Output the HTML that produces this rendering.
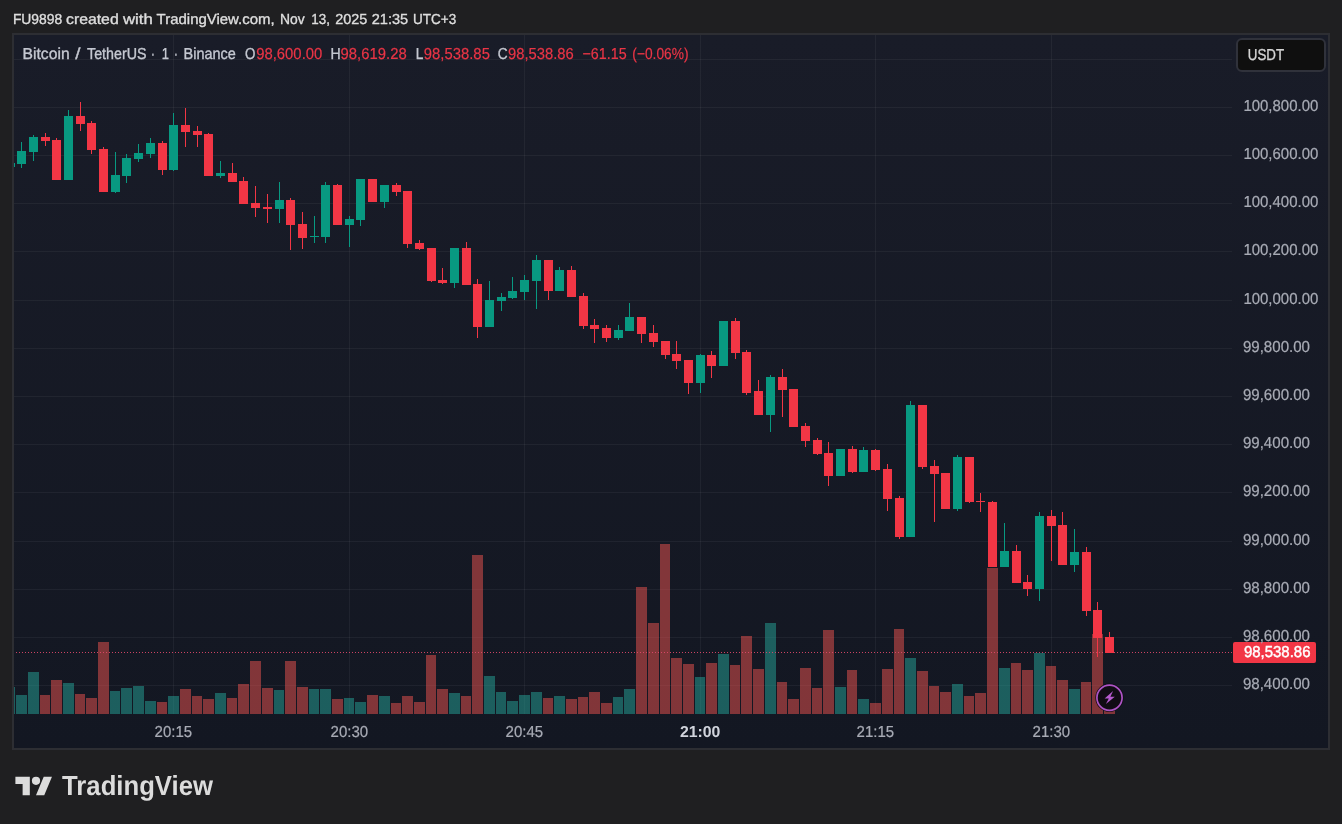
<!DOCTYPE html>
<html lang="en"><head><meta charset="utf-8"><title>TradingView</title>
<style>
html,body{margin:0;padding:0;background:#1f1f21;}
body{width:1342px;height:824px;overflow:hidden;}
svg{display:block;}
text{font-family:"Liberation Sans",Arial,sans-serif;text-rendering:geometricPrecision;}
</style></head><body>
<svg width="1342" height="824" viewBox="0 0 1342 824">
<defs>
<linearGradient id="bg" x1="0" y1="0" x2="0" y2="1"><stop offset="0" stop-color="#191c28"/><stop offset="1" stop-color="#131722"/></linearGradient>
<clipPath id="plot"><rect x="14" y="35" width="1218" height="713"/></clipPath>
</defs>
<rect x="0" y="0" width="1342" height="824" fill="#1f1f21"/>
<rect x="12" y="33" width="1318" height="717" fill="#2d2e33" shape-rendering="crispEdges"/>
<rect x="14" y="35" width="1314" height="713" fill="url(#bg)" shape-rendering="crispEdges"/>
<g fill="#f2f2f2" fill-opacity="0.056" shape-rendering="crispEdges">
<rect x="14" y="59" width="1218" height="1"/>
<rect x="14" y="107" width="1218" height="1"/>
<rect x="14" y="155" width="1218" height="1"/>
<rect x="14" y="203" width="1218" height="1"/>
<rect x="14" y="251" width="1218" height="1"/>
<rect x="14" y="300" width="1218" height="1"/>
<rect x="14" y="348" width="1218" height="1"/>
<rect x="14" y="396" width="1218" height="1"/>
<rect x="14" y="444" width="1218" height="1"/>
<rect x="14" y="492" width="1218" height="1"/>
<rect x="14" y="541" width="1218" height="1"/>
<rect x="14" y="589" width="1218" height="1"/>
<rect x="14" y="637" width="1218" height="1"/>
<rect x="14" y="685" width="1218" height="1"/>
<rect x="173" y="35" width="1" height="679"/>
<rect x="349" y="35" width="1" height="679"/>
<rect x="524" y="35" width="1" height="679"/>
<rect x="700" y="35" width="1" height="679"/>
<rect x="875" y="35" width="1" height="679"/>
<rect x="1051" y="35" width="1" height="679"/>
</g>
<g clip-path="url(#plot)" shape-rendering="crispEdges">
<g fill-opacity="0.5">
<rect x="4" y="687" width="11" height="27" fill="#26a69a"/>
<rect x="16" y="695" width="11" height="19" fill="#26a69a"/>
<rect x="28" y="672" width="11" height="42" fill="#26a69a"/>
<rect x="40" y="695" width="10" height="19" fill="#ef5350"/>
<rect x="51" y="680" width="11" height="34" fill="#ef5350"/>
<rect x="63" y="683" width="11" height="31" fill="#26a69a"/>
<rect x="75" y="694" width="10" height="20" fill="#ef5350"/>
<rect x="86" y="698" width="11" height="16" fill="#ef5350"/>
<rect x="98" y="642" width="11" height="72" fill="#ef5350"/>
<rect x="110" y="691" width="10" height="23" fill="#26a69a"/>
<rect x="121" y="688" width="11" height="26" fill="#26a69a"/>
<rect x="133" y="686" width="11" height="28" fill="#26a69a"/>
<rect x="145" y="701" width="11" height="13" fill="#26a69a"/>
<rect x="157" y="702" width="10" height="12" fill="#ef5350"/>
<rect x="168" y="696" width="11" height="18" fill="#26a69a"/>
<rect x="180" y="689" width="11" height="25" fill="#ef5350"/>
<rect x="192" y="696" width="10" height="18" fill="#ef5350"/>
<rect x="203" y="699" width="11" height="15" fill="#ef5350"/>
<rect x="215" y="693" width="11" height="21" fill="#26a69a"/>
<rect x="227" y="698" width="10" height="16" fill="#ef5350"/>
<rect x="238" y="684" width="11" height="30" fill="#ef5350"/>
<rect x="250" y="661" width="11" height="53" fill="#ef5350"/>
<rect x="262" y="688" width="11" height="26" fill="#ef5350"/>
<rect x="274" y="690" width="10" height="24" fill="#26a69a"/>
<rect x="285" y="661" width="11" height="53" fill="#ef5350"/>
<rect x="297" y="687" width="11" height="27" fill="#ef5350"/>
<rect x="309" y="689" width="10" height="25" fill="#26a69a"/>
<rect x="320" y="689" width="11" height="25" fill="#26a69a"/>
<rect x="332" y="699" width="11" height="15" fill="#ef5350"/>
<rect x="344" y="698" width="10" height="16" fill="#26a69a"/>
<rect x="355" y="702" width="11" height="12" fill="#26a69a"/>
<rect x="367" y="695" width="11" height="19" fill="#ef5350"/>
<rect x="379" y="696" width="11" height="18" fill="#26a69a"/>
<rect x="391" y="703" width="10" height="11" fill="#ef5350"/>
<rect x="402" y="696" width="11" height="18" fill="#ef5350"/>
<rect x="414" y="702" width="11" height="12" fill="#ef5350"/>
<rect x="426" y="655" width="10" height="59" fill="#ef5350"/>
<rect x="437" y="689" width="11" height="25" fill="#ef5350"/>
<rect x="449" y="693" width="11" height="21" fill="#26a69a"/>
<rect x="461" y="696" width="10" height="18" fill="#ef5350"/>
<rect x="472" y="555" width="11" height="159" fill="#ef5350"/>
<rect x="484" y="676" width="11" height="38" fill="#26a69a"/>
<rect x="496" y="692" width="10" height="22" fill="#26a69a"/>
<rect x="507" y="701" width="11" height="13" fill="#26a69a"/>
<rect x="519" y="695" width="11" height="19" fill="#26a69a"/>
<rect x="531" y="692" width="11" height="22" fill="#26a69a"/>
<rect x="543" y="698" width="10" height="16" fill="#ef5350"/>
<rect x="554" y="696" width="11" height="18" fill="#26a69a"/>
<rect x="566" y="699" width="11" height="15" fill="#ef5350"/>
<rect x="578" y="697" width="10" height="17" fill="#ef5350"/>
<rect x="589" y="692" width="11" height="22" fill="#ef5350"/>
<rect x="601" y="703" width="11" height="11" fill="#ef5350"/>
<rect x="613" y="697" width="10" height="17" fill="#26a69a"/>
<rect x="624" y="689" width="11" height="25" fill="#26a69a"/>
<rect x="636" y="587" width="11" height="127" fill="#ef5350"/>
<rect x="648" y="623" width="11" height="91" fill="#ef5350"/>
<rect x="660" y="544" width="10" height="170" fill="#ef5350"/>
<rect x="671" y="658" width="11" height="56" fill="#ef5350"/>
<rect x="683" y="664" width="11" height="50" fill="#ef5350"/>
<rect x="695" y="677" width="10" height="37" fill="#26a69a"/>
<rect x="706" y="663" width="11" height="51" fill="#ef5350"/>
<rect x="718" y="654" width="11" height="60" fill="#26a69a"/>
<rect x="730" y="665" width="10" height="49" fill="#ef5350"/>
<rect x="741" y="636" width="11" height="78" fill="#ef5350"/>
<rect x="753" y="669" width="11" height="45" fill="#ef5350"/>
<rect x="765" y="623" width="11" height="91" fill="#26a69a"/>
<rect x="777" y="682" width="10" height="32" fill="#ef5350"/>
<rect x="788" y="699" width="11" height="15" fill="#ef5350"/>
<rect x="800" y="668" width="11" height="46" fill="#ef5350"/>
<rect x="812" y="688" width="10" height="26" fill="#ef5350"/>
<rect x="823" y="630" width="11" height="84" fill="#ef5350"/>
<rect x="835" y="687" width="11" height="27" fill="#26a69a"/>
<rect x="847" y="670" width="10" height="44" fill="#ef5350"/>
<rect x="858" y="699" width="11" height="15" fill="#26a69a"/>
<rect x="870" y="703" width="11" height="11" fill="#ef5350"/>
<rect x="882" y="669" width="11" height="45" fill="#ef5350"/>
<rect x="894" y="629" width="10" height="85" fill="#ef5350"/>
<rect x="905" y="658" width="11" height="56" fill="#26a69a"/>
<rect x="917" y="671" width="11" height="43" fill="#ef5350"/>
<rect x="929" y="686" width="10" height="28" fill="#ef5350"/>
<rect x="940" y="692" width="11" height="22" fill="#ef5350"/>
<rect x="952" y="684" width="11" height="30" fill="#26a69a"/>
<rect x="964" y="696" width="10" height="18" fill="#ef5350"/>
<rect x="975" y="693" width="11" height="21" fill="#ef5350"/>
<rect x="987" y="568" width="11" height="146" fill="#ef5350"/>
<rect x="999" y="668" width="11" height="46" fill="#26a69a"/>
<rect x="1011" y="663" width="10" height="51" fill="#ef5350"/>
<rect x="1022" y="670" width="11" height="44" fill="#ef5350"/>
<rect x="1034" y="653" width="11" height="61" fill="#26a69a"/>
<rect x="1046" y="666" width="10" height="48" fill="#ef5350"/>
<rect x="1057" y="680" width="11" height="34" fill="#ef5350"/>
<rect x="1069" y="689" width="11" height="25" fill="#26a69a"/>
<rect x="1081" y="682" width="10" height="32" fill="#ef5350"/>
<rect x="1092" y="634" width="11" height="80" fill="#ef5350"/>
<rect x="1104" y="688" width="11" height="26" fill="#ef5350"/>
</g>
<g fill="#e0486a" fill-opacity="0.9">
<path d="M16 652h1v1h-1zM19 652h1v1h-1zM22 652h1v1h-1zM25 652h1v1h-1zM28 652h1v1h-1zM31 652h1v1h-1zM34 652h1v1h-1zM37 652h1v1h-1zM40 652h1v1h-1zM43 652h1v1h-1zM46 652h1v1h-1zM49 652h1v1h-1zM52 652h1v1h-1zM55 652h1v1h-1zM58 652h1v1h-1zM61 652h1v1h-1zM64 652h1v1h-1zM67 652h1v1h-1zM70 652h1v1h-1zM73 652h1v1h-1zM76 652h1v1h-1zM79 652h1v1h-1zM82 652h1v1h-1zM85 652h1v1h-1zM88 652h1v1h-1zM91 652h1v1h-1zM94 652h1v1h-1zM97 652h1v1h-1zM100 652h1v1h-1zM103 652h1v1h-1zM106 652h1v1h-1zM109 652h1v1h-1zM112 652h1v1h-1zM115 652h1v1h-1zM118 652h1v1h-1zM121 652h1v1h-1zM124 652h1v1h-1zM127 652h1v1h-1zM130 652h1v1h-1zM133 652h1v1h-1zM136 652h1v1h-1zM139 652h1v1h-1zM142 652h1v1h-1zM145 652h1v1h-1zM148 652h1v1h-1zM151 652h1v1h-1zM154 652h1v1h-1zM157 652h1v1h-1zM160 652h1v1h-1zM163 652h1v1h-1zM166 652h1v1h-1zM169 652h1v1h-1zM172 652h1v1h-1zM175 652h1v1h-1zM178 652h1v1h-1zM181 652h1v1h-1zM184 652h1v1h-1zM187 652h1v1h-1zM190 652h1v1h-1zM193 652h1v1h-1zM196 652h1v1h-1zM199 652h1v1h-1zM202 652h1v1h-1zM205 652h1v1h-1zM208 652h1v1h-1zM211 652h1v1h-1zM214 652h1v1h-1zM217 652h1v1h-1zM220 652h1v1h-1zM223 652h1v1h-1zM226 652h1v1h-1zM229 652h1v1h-1zM232 652h1v1h-1zM235 652h1v1h-1zM238 652h1v1h-1zM241 652h1v1h-1zM244 652h1v1h-1zM247 652h1v1h-1zM250 652h1v1h-1zM253 652h1v1h-1zM256 652h1v1h-1zM259 652h1v1h-1zM262 652h1v1h-1zM265 652h1v1h-1zM268 652h1v1h-1zM271 652h1v1h-1zM274 652h1v1h-1zM277 652h1v1h-1zM280 652h1v1h-1zM283 652h1v1h-1zM286 652h1v1h-1zM289 652h1v1h-1zM292 652h1v1h-1zM295 652h1v1h-1zM298 652h1v1h-1zM301 652h1v1h-1zM304 652h1v1h-1zM307 652h1v1h-1zM310 652h1v1h-1zM313 652h1v1h-1zM316 652h1v1h-1zM319 652h1v1h-1zM322 652h1v1h-1zM325 652h1v1h-1zM328 652h1v1h-1zM331 652h1v1h-1zM334 652h1v1h-1zM337 652h1v1h-1zM340 652h1v1h-1zM343 652h1v1h-1zM346 652h1v1h-1zM349 652h1v1h-1zM352 652h1v1h-1zM355 652h1v1h-1zM358 652h1v1h-1zM361 652h1v1h-1zM364 652h1v1h-1zM367 652h1v1h-1zM370 652h1v1h-1zM373 652h1v1h-1zM376 652h1v1h-1zM379 652h1v1h-1zM382 652h1v1h-1zM385 652h1v1h-1zM388 652h1v1h-1zM391 652h1v1h-1zM394 652h1v1h-1zM397 652h1v1h-1zM400 652h1v1h-1zM403 652h1v1h-1zM406 652h1v1h-1zM409 652h1v1h-1zM412 652h1v1h-1zM415 652h1v1h-1zM418 652h1v1h-1zM421 652h1v1h-1zM424 652h1v1h-1zM427 652h1v1h-1zM430 652h1v1h-1zM433 652h1v1h-1zM436 652h1v1h-1zM439 652h1v1h-1zM442 652h1v1h-1zM445 652h1v1h-1zM448 652h1v1h-1zM451 652h1v1h-1zM454 652h1v1h-1zM457 652h1v1h-1zM460 652h1v1h-1zM463 652h1v1h-1zM466 652h1v1h-1zM469 652h1v1h-1zM472 652h1v1h-1zM475 652h1v1h-1zM478 652h1v1h-1zM481 652h1v1h-1zM484 652h1v1h-1zM487 652h1v1h-1zM490 652h1v1h-1zM493 652h1v1h-1zM496 652h1v1h-1zM499 652h1v1h-1zM502 652h1v1h-1zM505 652h1v1h-1zM508 652h1v1h-1zM511 652h1v1h-1zM514 652h1v1h-1zM517 652h1v1h-1zM520 652h1v1h-1zM523 652h1v1h-1zM526 652h1v1h-1zM529 652h1v1h-1zM532 652h1v1h-1zM535 652h1v1h-1zM538 652h1v1h-1zM541 652h1v1h-1zM544 652h1v1h-1zM547 652h1v1h-1zM550 652h1v1h-1zM553 652h1v1h-1zM556 652h1v1h-1zM559 652h1v1h-1zM562 652h1v1h-1zM565 652h1v1h-1zM568 652h1v1h-1zM571 652h1v1h-1zM574 652h1v1h-1zM577 652h1v1h-1zM580 652h1v1h-1zM583 652h1v1h-1zM586 652h1v1h-1zM589 652h1v1h-1zM592 652h1v1h-1zM595 652h1v1h-1zM598 652h1v1h-1zM601 652h1v1h-1zM604 652h1v1h-1zM607 652h1v1h-1zM610 652h1v1h-1zM613 652h1v1h-1zM616 652h1v1h-1zM619 652h1v1h-1zM622 652h1v1h-1zM625 652h1v1h-1zM628 652h1v1h-1zM631 652h1v1h-1zM634 652h1v1h-1zM637 652h1v1h-1zM640 652h1v1h-1zM643 652h1v1h-1zM646 652h1v1h-1zM649 652h1v1h-1zM652 652h1v1h-1zM655 652h1v1h-1zM658 652h1v1h-1zM661 652h1v1h-1zM664 652h1v1h-1zM667 652h1v1h-1zM670 652h1v1h-1zM673 652h1v1h-1zM676 652h1v1h-1zM679 652h1v1h-1zM682 652h1v1h-1zM685 652h1v1h-1zM688 652h1v1h-1zM691 652h1v1h-1zM694 652h1v1h-1zM697 652h1v1h-1zM700 652h1v1h-1zM703 652h1v1h-1zM706 652h1v1h-1zM709 652h1v1h-1zM712 652h1v1h-1zM715 652h1v1h-1zM718 652h1v1h-1zM721 652h1v1h-1zM724 652h1v1h-1zM727 652h1v1h-1zM730 652h1v1h-1zM733 652h1v1h-1zM736 652h1v1h-1zM739 652h1v1h-1zM742 652h1v1h-1zM745 652h1v1h-1zM748 652h1v1h-1zM751 652h1v1h-1zM754 652h1v1h-1zM757 652h1v1h-1zM760 652h1v1h-1zM763 652h1v1h-1zM766 652h1v1h-1zM769 652h1v1h-1zM772 652h1v1h-1zM775 652h1v1h-1zM778 652h1v1h-1zM781 652h1v1h-1zM784 652h1v1h-1zM787 652h1v1h-1zM790 652h1v1h-1zM793 652h1v1h-1zM796 652h1v1h-1zM799 652h1v1h-1zM802 652h1v1h-1zM805 652h1v1h-1zM808 652h1v1h-1zM811 652h1v1h-1zM814 652h1v1h-1zM817 652h1v1h-1zM820 652h1v1h-1zM823 652h1v1h-1zM826 652h1v1h-1zM829 652h1v1h-1zM832 652h1v1h-1zM835 652h1v1h-1zM838 652h1v1h-1zM841 652h1v1h-1zM844 652h1v1h-1zM847 652h1v1h-1zM850 652h1v1h-1zM853 652h1v1h-1zM856 652h1v1h-1zM859 652h1v1h-1zM862 652h1v1h-1zM865 652h1v1h-1zM868 652h1v1h-1zM871 652h1v1h-1zM874 652h1v1h-1zM877 652h1v1h-1zM880 652h1v1h-1zM883 652h1v1h-1zM886 652h1v1h-1zM889 652h1v1h-1zM892 652h1v1h-1zM895 652h1v1h-1zM898 652h1v1h-1zM901 652h1v1h-1zM904 652h1v1h-1zM907 652h1v1h-1zM910 652h1v1h-1zM913 652h1v1h-1zM916 652h1v1h-1zM919 652h1v1h-1zM922 652h1v1h-1zM925 652h1v1h-1zM928 652h1v1h-1zM931 652h1v1h-1zM934 652h1v1h-1zM937 652h1v1h-1zM940 652h1v1h-1zM943 652h1v1h-1zM946 652h1v1h-1zM949 652h1v1h-1zM952 652h1v1h-1zM955 652h1v1h-1zM958 652h1v1h-1zM961 652h1v1h-1zM964 652h1v1h-1zM967 652h1v1h-1zM970 652h1v1h-1zM973 652h1v1h-1zM976 652h1v1h-1zM979 652h1v1h-1zM982 652h1v1h-1zM985 652h1v1h-1zM988 652h1v1h-1zM991 652h1v1h-1zM994 652h1v1h-1zM997 652h1v1h-1zM1000 652h1v1h-1zM1003 652h1v1h-1zM1006 652h1v1h-1zM1009 652h1v1h-1zM1012 652h1v1h-1zM1015 652h1v1h-1zM1018 652h1v1h-1zM1021 652h1v1h-1zM1024 652h1v1h-1zM1027 652h1v1h-1zM1030 652h1v1h-1zM1033 652h1v1h-1zM1036 652h1v1h-1zM1039 652h1v1h-1zM1042 652h1v1h-1zM1045 652h1v1h-1zM1048 652h1v1h-1zM1051 652h1v1h-1zM1054 652h1v1h-1zM1057 652h1v1h-1zM1060 652h1v1h-1zM1063 652h1v1h-1zM1066 652h1v1h-1zM1069 652h1v1h-1zM1072 652h1v1h-1zM1075 652h1v1h-1zM1078 652h1v1h-1zM1081 652h1v1h-1zM1084 652h1v1h-1zM1087 652h1v1h-1zM1090 652h1v1h-1zM1093 652h1v1h-1zM1096 652h1v1h-1zM1099 652h1v1h-1zM1102 652h1v1h-1zM1105 652h1v1h-1zM1108 652h1v1h-1zM1111 652h1v1h-1zM1114 652h1v1h-1zM1117 652h1v1h-1zM1120 652h1v1h-1zM1123 652h1v1h-1zM1126 652h1v1h-1zM1129 652h1v1h-1zM1132 652h1v1h-1zM1135 652h1v1h-1zM1138 652h1v1h-1zM1141 652h1v1h-1zM1144 652h1v1h-1zM1147 652h1v1h-1zM1150 652h1v1h-1zM1153 652h1v1h-1zM1156 652h1v1h-1zM1159 652h1v1h-1zM1162 652h1v1h-1zM1165 652h1v1h-1zM1168 652h1v1h-1zM1171 652h1v1h-1zM1174 652h1v1h-1zM1177 652h1v1h-1zM1180 652h1v1h-1zM1183 652h1v1h-1zM1186 652h1v1h-1zM1189 652h1v1h-1zM1192 652h1v1h-1zM1195 652h1v1h-1zM1198 652h1v1h-1zM1201 652h1v1h-1zM1204 652h1v1h-1zM1207 652h1v1h-1zM1210 652h1v1h-1zM1213 652h1v1h-1zM1216 652h1v1h-1zM1219 652h1v1h-1zM1222 652h1v1h-1zM1225 652h1v1h-1zM1228 652h1v1h-1zM1231 652h1v1h-1z"/>
</g>
<rect x="10" y="163" width="5" height="4" fill="#089981"/>
<rect x="21" y="142" width="1" height="26" fill="#089981"/>
<rect x="17" y="151" width="9" height="13" fill="#089981"/>
<rect x="33" y="135" width="1" height="26" fill="#089981"/>
<rect x="29" y="137" width="9" height="15" fill="#089981"/>
<rect x="45" y="133" width="1" height="13" fill="#f23645"/>
<rect x="41" y="137" width="9" height="4" fill="#f23645"/>
<rect x="56" y="138" width="1" height="42" fill="#f23645"/>
<rect x="52" y="140" width="9" height="40" fill="#f23645"/>
<rect x="68" y="110" width="1" height="70" fill="#089981"/>
<rect x="64" y="116" width="9" height="64" fill="#089981"/>
<rect x="80" y="102" width="1" height="29" fill="#f23645"/>
<rect x="76" y="116" width="9" height="8" fill="#f23645"/>
<rect x="91" y="121" width="1" height="33" fill="#f23645"/>
<rect x="87" y="123" width="9" height="27" fill="#f23645"/>
<rect x="103" y="147" width="1" height="45" fill="#f23645"/>
<rect x="99" y="149" width="9" height="43" fill="#f23645"/>
<rect x="115" y="152" width="1" height="41" fill="#089981"/>
<rect x="111" y="175" width="9" height="17" fill="#089981"/>
<rect x="126" y="154" width="1" height="29" fill="#089981"/>
<rect x="122" y="158" width="9" height="18" fill="#089981"/>
<rect x="138" y="144" width="1" height="18" fill="#089981"/>
<rect x="134" y="153" width="9" height="6" fill="#089981"/>
<rect x="150" y="138" width="1" height="20" fill="#089981"/>
<rect x="146" y="143" width="9" height="11" fill="#089981"/>
<rect x="162" y="141" width="1" height="34" fill="#f23645"/>
<rect x="158" y="143" width="9" height="27" fill="#f23645"/>
<rect x="173" y="113" width="1" height="58" fill="#089981"/>
<rect x="169" y="125" width="9" height="45" fill="#089981"/>
<rect x="185" y="108" width="1" height="39" fill="#f23645"/>
<rect x="181" y="125" width="9" height="7" fill="#f23645"/>
<rect x="197" y="126" width="1" height="21" fill="#f23645"/>
<rect x="193" y="131" width="9" height="4" fill="#f23645"/>
<rect x="208" y="133" width="1" height="43" fill="#f23645"/>
<rect x="204" y="134" width="9" height="42" fill="#f23645"/>
<rect x="220" y="161" width="1" height="17" fill="#089981"/>
<rect x="216" y="173" width="9" height="3" fill="#089981"/>
<rect x="232" y="163" width="1" height="19" fill="#f23645"/>
<rect x="228" y="173" width="9" height="9" fill="#f23645"/>
<rect x="243" y="177" width="1" height="27" fill="#f23645"/>
<rect x="239" y="181" width="9" height="23" fill="#f23645"/>
<rect x="255" y="186" width="1" height="31" fill="#f23645"/>
<rect x="251" y="203" width="9" height="5" fill="#f23645"/>
<rect x="267" y="194" width="1" height="29" fill="#f23645"/>
<rect x="263" y="207" width="9" height="2" fill="#f23645"/>
<rect x="279" y="182" width="1" height="41" fill="#089981"/>
<rect x="275" y="200" width="9" height="9" fill="#089981"/>
<rect x="290" y="198" width="1" height="52" fill="#f23645"/>
<rect x="286" y="200" width="9" height="25" fill="#f23645"/>
<rect x="302" y="212" width="1" height="37" fill="#f23645"/>
<rect x="298" y="224" width="9" height="14" fill="#f23645"/>
<rect x="314" y="216" width="1" height="27" fill="#089981"/>
<rect x="310" y="236" width="9" height="1" fill="#089981"/>
<rect x="325" y="182" width="1" height="61" fill="#089981"/>
<rect x="321" y="185" width="9" height="52" fill="#089981"/>
<rect x="337" y="184" width="1" height="41" fill="#f23645"/>
<rect x="333" y="185" width="9" height="40" fill="#f23645"/>
<rect x="349" y="216" width="1" height="31" fill="#089981"/>
<rect x="345" y="219" width="9" height="6" fill="#089981"/>
<rect x="360" y="179" width="1" height="47" fill="#089981"/>
<rect x="356" y="179" width="9" height="41" fill="#089981"/>
<rect x="372" y="179" width="1" height="23" fill="#f23645"/>
<rect x="368" y="179" width="9" height="23" fill="#f23645"/>
<rect x="384" y="185" width="1" height="23" fill="#089981"/>
<rect x="380" y="185" width="9" height="17" fill="#089981"/>
<rect x="396" y="183" width="1" height="13" fill="#f23645"/>
<rect x="392" y="185" width="9" height="7" fill="#f23645"/>
<rect x="407" y="191" width="1" height="57" fill="#f23645"/>
<rect x="403" y="191" width="9" height="53" fill="#f23645"/>
<rect x="419" y="240" width="1" height="10" fill="#f23645"/>
<rect x="415" y="243" width="9" height="6" fill="#f23645"/>
<rect x="431" y="248" width="1" height="34" fill="#f23645"/>
<rect x="427" y="248" width="9" height="33" fill="#f23645"/>
<rect x="442" y="268" width="1" height="16" fill="#f23645"/>
<rect x="438" y="280" width="9" height="3" fill="#f23645"/>
<rect x="454" y="248" width="1" height="40" fill="#089981"/>
<rect x="450" y="248" width="9" height="35" fill="#089981"/>
<rect x="466" y="242" width="1" height="43" fill="#f23645"/>
<rect x="462" y="248" width="9" height="37" fill="#f23645"/>
<rect x="477" y="279" width="1" height="59" fill="#f23645"/>
<rect x="473" y="284" width="9" height="43" fill="#f23645"/>
<rect x="489" y="281" width="1" height="46" fill="#089981"/>
<rect x="485" y="300" width="9" height="27" fill="#089981"/>
<rect x="501" y="293" width="1" height="18" fill="#089981"/>
<rect x="497" y="297" width="9" height="4" fill="#089981"/>
<rect x="512" y="277" width="1" height="22" fill="#089981"/>
<rect x="508" y="291" width="9" height="7" fill="#089981"/>
<rect x="524" y="275" width="1" height="25" fill="#089981"/>
<rect x="520" y="280" width="9" height="12" fill="#089981"/>
<rect x="536" y="255" width="1" height="54" fill="#089981"/>
<rect x="532" y="260" width="9" height="21" fill="#089981"/>
<rect x="548" y="260" width="1" height="40" fill="#f23645"/>
<rect x="544" y="260" width="9" height="31" fill="#f23645"/>
<rect x="559" y="267" width="1" height="24" fill="#089981"/>
<rect x="555" y="270" width="9" height="21" fill="#089981"/>
<rect x="571" y="266" width="1" height="31" fill="#f23645"/>
<rect x="567" y="270" width="9" height="27" fill="#f23645"/>
<rect x="583" y="293" width="1" height="36" fill="#f23645"/>
<rect x="579" y="296" width="9" height="30" fill="#f23645"/>
<rect x="594" y="319" width="1" height="24" fill="#f23645"/>
<rect x="590" y="325" width="9" height="4" fill="#f23645"/>
<rect x="606" y="325" width="1" height="17" fill="#f23645"/>
<rect x="602" y="328" width="9" height="10" fill="#f23645"/>
<rect x="618" y="325" width="1" height="15" fill="#089981"/>
<rect x="614" y="330" width="9" height="8" fill="#089981"/>
<rect x="629" y="303" width="1" height="28" fill="#089981"/>
<rect x="625" y="317" width="9" height="14" fill="#089981"/>
<rect x="641" y="317" width="1" height="26" fill="#f23645"/>
<rect x="637" y="317" width="9" height="17" fill="#f23645"/>
<rect x="653" y="325" width="1" height="22" fill="#f23645"/>
<rect x="649" y="333" width="9" height="9" fill="#f23645"/>
<rect x="665" y="341" width="1" height="18" fill="#f23645"/>
<rect x="661" y="341" width="9" height="14" fill="#f23645"/>
<rect x="676" y="341" width="1" height="28" fill="#f23645"/>
<rect x="672" y="354" width="9" height="7" fill="#f23645"/>
<rect x="688" y="360" width="1" height="34" fill="#f23645"/>
<rect x="684" y="360" width="9" height="23" fill="#f23645"/>
<rect x="700" y="354" width="1" height="39" fill="#089981"/>
<rect x="696" y="355" width="9" height="28" fill="#089981"/>
<rect x="711" y="351" width="1" height="27" fill="#f23645"/>
<rect x="707" y="355" width="9" height="11" fill="#f23645"/>
<rect x="723" y="321" width="1" height="45" fill="#089981"/>
<rect x="719" y="321" width="9" height="45" fill="#089981"/>
<rect x="735" y="318" width="1" height="41" fill="#f23645"/>
<rect x="731" y="321" width="9" height="32" fill="#f23645"/>
<rect x="746" y="350" width="1" height="45" fill="#f23645"/>
<rect x="742" y="352" width="9" height="41" fill="#f23645"/>
<rect x="758" y="380" width="1" height="35" fill="#f23645"/>
<rect x="754" y="391" width="9" height="24" fill="#f23645"/>
<rect x="770" y="375" width="1" height="57" fill="#089981"/>
<rect x="766" y="377" width="9" height="38" fill="#089981"/>
<rect x="782" y="369" width="1" height="48" fill="#f23645"/>
<rect x="778" y="377" width="9" height="13" fill="#f23645"/>
<rect x="793" y="389" width="1" height="38" fill="#f23645"/>
<rect x="789" y="389" width="9" height="38" fill="#f23645"/>
<rect x="805" y="423" width="1" height="24" fill="#f23645"/>
<rect x="801" y="426" width="9" height="15" fill="#f23645"/>
<rect x="817" y="438" width="1" height="17" fill="#f23645"/>
<rect x="813" y="440" width="9" height="14" fill="#f23645"/>
<rect x="828" y="442" width="1" height="44" fill="#f23645"/>
<rect x="824" y="453" width="9" height="23" fill="#f23645"/>
<rect x="840" y="449" width="1" height="27" fill="#089981"/>
<rect x="836" y="449" width="9" height="27" fill="#089981"/>
<rect x="852" y="446" width="1" height="27" fill="#f23645"/>
<rect x="848" y="449" width="9" height="23" fill="#f23645"/>
<rect x="863" y="447" width="1" height="25" fill="#089981"/>
<rect x="859" y="450" width="9" height="22" fill="#089981"/>
<rect x="875" y="449" width="1" height="22" fill="#f23645"/>
<rect x="871" y="450" width="9" height="20" fill="#f23645"/>
<rect x="887" y="464" width="1" height="47" fill="#f23645"/>
<rect x="883" y="469" width="9" height="30" fill="#f23645"/>
<rect x="899" y="496" width="1" height="43" fill="#f23645"/>
<rect x="895" y="498" width="9" height="39" fill="#f23645"/>
<rect x="910" y="401" width="1" height="136" fill="#089981"/>
<rect x="906" y="405" width="9" height="132" fill="#089981"/>
<rect x="922" y="405" width="1" height="64" fill="#f23645"/>
<rect x="918" y="405" width="9" height="62" fill="#f23645"/>
<rect x="934" y="460" width="1" height="62" fill="#f23645"/>
<rect x="930" y="466" width="9" height="8" fill="#f23645"/>
<rect x="945" y="473" width="1" height="36" fill="#f23645"/>
<rect x="941" y="473" width="9" height="36" fill="#f23645"/>
<rect x="957" y="455" width="1" height="56" fill="#089981"/>
<rect x="953" y="457" width="9" height="52" fill="#089981"/>
<rect x="969" y="457" width="1" height="46" fill="#f23645"/>
<rect x="965" y="457" width="9" height="45" fill="#f23645"/>
<rect x="980" y="493" width="1" height="19" fill="#f23645"/>
<rect x="976" y="501" width="9" height="1" fill="#f23645"/>
<rect x="992" y="501" width="1" height="66" fill="#f23645"/>
<rect x="988" y="502" width="9" height="65" fill="#f23645"/>
<rect x="1004" y="523" width="1" height="44" fill="#089981"/>
<rect x="1000" y="551" width="9" height="16" fill="#089981"/>
<rect x="1016" y="545" width="1" height="38" fill="#f23645"/>
<rect x="1012" y="551" width="9" height="32" fill="#f23645"/>
<rect x="1027" y="575" width="1" height="21" fill="#f23645"/>
<rect x="1023" y="582" width="9" height="7" fill="#f23645"/>
<rect x="1039" y="512" width="1" height="89" fill="#089981"/>
<rect x="1035" y="516" width="9" height="73" fill="#089981"/>
<rect x="1051" y="510" width="1" height="51" fill="#f23645"/>
<rect x="1047" y="516" width="9" height="10" fill="#f23645"/>
<rect x="1062" y="512" width="1" height="53" fill="#f23645"/>
<rect x="1058" y="525" width="9" height="40" fill="#f23645"/>
<rect x="1074" y="529" width="1" height="43" fill="#089981"/>
<rect x="1070" y="552" width="9" height="13" fill="#089981"/>
<rect x="1086" y="547" width="1" height="69" fill="#f23645"/>
<rect x="1082" y="552" width="9" height="59" fill="#f23645"/>
<rect x="1097" y="602" width="1" height="55" fill="#f23645"/>
<rect x="1093" y="610" width="9" height="28" fill="#f23645"/>
<rect x="1109" y="632" width="1" height="21" fill="#f23645"/>
<rect x="1105" y="637" width="9" height="16" fill="#f23645"/>
</g>
<circle cx="1109.5" cy="697.7" r="14.2" fill="#100a14" fill-opacity="0.9"/>
<circle cx="1109.5" cy="697.7" r="12.6" fill="#110c15" stroke="#ad54c5" stroke-width="1.7"/>
<polygon points="1113.1,691.1 1104.6,698.4 1108.8,698.4 1105.9,704.1 1114.8,696.8 1110.4,696.8" fill="#b65bcf"/>
<rect x="1233" y="642" width="83" height="21" rx="2" ry="2" fill="#f23645"/>
<rect x="1237" y="39" width="88" height="32" rx="5" ry="5" fill="#0f0f0f" stroke="#30323b" stroke-width="2"/>
<text y="24.0" font-size="14.5"><tspan x="12.9" textLength="49.3" lengthAdjust="spacingAndGlyphs" fill="#dedede" stroke="#dedede" stroke-width="0.35">FU9898</tspan> <tspan x="66.0" textLength="52.7" lengthAdjust="spacingAndGlyphs" fill="#dedede" stroke="#dedede" stroke-width="0.35">created</tspan> <tspan x="123.0" textLength="29.8" lengthAdjust="spacingAndGlyphs" fill="#dedede" stroke="#dedede" stroke-width="0.35">with</tspan> <tspan x="156.6" textLength="118.1" lengthAdjust="spacingAndGlyphs" fill="#dedede" stroke="#dedede" stroke-width="0.35">TradingView.com,</tspan> <tspan x="280.1" textLength="24.7" lengthAdjust="spacingAndGlyphs" fill="#dedede" stroke="#dedede" stroke-width="0.35">Nov</tspan> <tspan x="311.2" textLength="18.7" lengthAdjust="spacingAndGlyphs" fill="#dedede" stroke="#dedede" stroke-width="0.35">13,</tspan> <tspan x="335.3" textLength="32.1" lengthAdjust="spacingAndGlyphs" fill="#dedede" stroke="#dedede" stroke-width="0.35">2025</tspan> <tspan x="371.7" textLength="36.5" lengthAdjust="spacingAndGlyphs" fill="#dedede" stroke="#dedede" stroke-width="0.35">21:35</tspan> <tspan x="413.0" textLength="43.2" lengthAdjust="spacingAndGlyphs" fill="#dedede" stroke="#dedede" stroke-width="0.35">UTC+3</tspan></text>
<text y="59" font-size="15.9"><tspan x="22.6" textLength="47.0" lengthAdjust="spacingAndGlyphs" fill="#c5c8d1" stroke="#c5c8d1" stroke-width="0.35">Bitcoin</tspan> <tspan x="75.3" textLength="5.2" lengthAdjust="spacingAndGlyphs" fill="#c5c8d1" stroke="#c5c8d1" stroke-width="0.35">/</tspan> <tspan x="87.0" textLength="59.5" lengthAdjust="spacingAndGlyphs" fill="#c5c8d1" stroke="#c5c8d1" stroke-width="0.35">TetherUS</tspan> <tspan x="151.1" textLength="3.8" lengthAdjust="spacingAndGlyphs" fill="#c5c8d1" stroke="#c5c8d1" stroke-width="0.35">·</tspan> <tspan x="161.7" textLength="7.2" lengthAdjust="spacingAndGlyphs" fill="#c5c8d1" stroke="#c5c8d1" stroke-width="0.35">1</tspan> <tspan x="173.9" textLength="3.8" lengthAdjust="spacingAndGlyphs" fill="#c5c8d1" stroke="#c5c8d1" stroke-width="0.35">·</tspan> <tspan x="183.6" textLength="52.3" lengthAdjust="spacingAndGlyphs" fill="#c5c8d1" stroke="#c5c8d1" stroke-width="0.35">Binance</tspan> <tspan x="244.9" textLength="10.4" lengthAdjust="spacingAndGlyphs" fill="#c5c8d1" stroke="#c5c8d1" stroke-width="0.35">O</tspan><tspan x="256.2" textLength="66.1" lengthAdjust="spacingAndGlyphs" fill="#ea3546" stroke="#ea3546" stroke-width="0.2">98,600.00</tspan> <tspan x="330.4" textLength="10.2" lengthAdjust="spacingAndGlyphs" fill="#c5c8d1" stroke="#c5c8d1" stroke-width="0.35">H</tspan><tspan x="340.6" textLength="66.1" lengthAdjust="spacingAndGlyphs" fill="#ea3546" stroke="#ea3546" stroke-width="0.2">98,619.28</tspan> <tspan x="415.8" textLength="7.6" lengthAdjust="spacingAndGlyphs" fill="#c5c8d1" stroke="#c5c8d1" stroke-width="0.35">L</tspan><tspan x="423.8" textLength="66.1" lengthAdjust="spacingAndGlyphs" fill="#ea3546" stroke="#ea3546" stroke-width="0.2">98,538.85</tspan> <tspan x="497.8" textLength="9.9" lengthAdjust="spacingAndGlyphs" fill="#c5c8d1" stroke="#c5c8d1" stroke-width="0.35">C</tspan><tspan x="508.0" textLength="65.7" lengthAdjust="spacingAndGlyphs" fill="#ea3546" stroke="#ea3546" stroke-width="0.2">98,538.86</tspan> <tspan x="582.5" textLength="44.1" lengthAdjust="spacingAndGlyphs" fill="#ea3546" stroke="#ea3546" stroke-width="0.2">−61.15</tspan> <tspan x="632.3" textLength="56.2" lengthAdjust="spacingAndGlyphs" fill="#ea3546" stroke="#ea3546" stroke-width="0.2">(−0.06%)</tspan></text>
<text x="1247.8" y="60" font-size="15.9" fill="#d4d4d4" textLength="36.3" lengthAdjust="spacingAndGlyphs" stroke="#d4d4d4" stroke-width="0.35">USDT</text>
<text x="1243.4" y="111" font-size="15.9" fill="#a8abb5" textLength="74.9" lengthAdjust="spacingAndGlyphs" stroke="#a8abb5" stroke-width="0.22">100,800.00</text>
<text x="1243.4" y="159" font-size="15.9" fill="#a8abb5" textLength="74.9" lengthAdjust="spacingAndGlyphs" stroke="#a8abb5" stroke-width="0.22">100,600.00</text>
<text x="1243.4" y="207" font-size="15.9" fill="#a8abb5" textLength="74.9" lengthAdjust="spacingAndGlyphs" stroke="#a8abb5" stroke-width="0.22">100,400.00</text>
<text x="1243.4" y="255" font-size="15.9" fill="#a8abb5" textLength="74.9" lengthAdjust="spacingAndGlyphs" stroke="#a8abb5" stroke-width="0.22">100,200.00</text>
<text x="1243.4" y="304" font-size="15.9" fill="#a8abb5" textLength="74.9" lengthAdjust="spacingAndGlyphs" stroke="#a8abb5" stroke-width="0.22">100,000.00</text>
<text x="1242.9" y="352" font-size="15.9" fill="#a8abb5" textLength="67.1" lengthAdjust="spacingAndGlyphs" stroke="#a8abb5" stroke-width="0.22">99,800.00</text>
<text x="1242.9" y="400" font-size="15.9" fill="#a8abb5" textLength="67.1" lengthAdjust="spacingAndGlyphs" stroke="#a8abb5" stroke-width="0.22">99,600.00</text>
<text x="1242.9" y="448" font-size="15.9" fill="#a8abb5" textLength="67.1" lengthAdjust="spacingAndGlyphs" stroke="#a8abb5" stroke-width="0.22">99,400.00</text>
<text x="1242.9" y="496" font-size="15.9" fill="#a8abb5" textLength="67.1" lengthAdjust="spacingAndGlyphs" stroke="#a8abb5" stroke-width="0.22">99,200.00</text>
<text x="1242.9" y="545" font-size="15.9" fill="#a8abb5" textLength="67.1" lengthAdjust="spacingAndGlyphs" stroke="#a8abb5" stroke-width="0.22">99,000.00</text>
<text x="1242.9" y="593" font-size="15.9" fill="#a8abb5" textLength="67.1" lengthAdjust="spacingAndGlyphs" stroke="#a8abb5" stroke-width="0.22">98,800.00</text>
<text x="1242.9" y="641" font-size="15.9" fill="#a8abb5" textLength="67.1" lengthAdjust="spacingAndGlyphs" stroke="#a8abb5" stroke-width="0.22">98,600.00</text>
<text x="1242.9" y="689" font-size="15.9" fill="#a8abb5" textLength="67.1" lengthAdjust="spacingAndGlyphs" stroke="#a8abb5" stroke-width="0.22">98,400.00</text>
<text x="1243.9" y="657" font-size="15.9" fill="#ffffff" textLength="66.6" lengthAdjust="spacingAndGlyphs" stroke="#ffffff" stroke-width="0.45">98,538.86</text>
<text x="154.6" y="737" font-size="15.9" fill="#a8abb5" textLength="37.5" lengthAdjust="spacingAndGlyphs" stroke="#a8abb5" stroke-width="0.22">20:15</text>
<text x="330.6" y="737" font-size="15.9" fill="#a8abb5" textLength="37.5" lengthAdjust="spacingAndGlyphs" stroke="#a8abb5" stroke-width="0.22">20:30</text>
<text x="505.6" y="737" font-size="15.9" fill="#a8abb5" textLength="37.5" lengthAdjust="spacingAndGlyphs" stroke="#a8abb5" stroke-width="0.22">20:45</text>
<text x="856.6" y="737" font-size="15.9" fill="#a8abb5" textLength="37.5" lengthAdjust="spacingAndGlyphs" stroke="#a8abb5" stroke-width="0.22">21:15</text>
<text x="1032.6" y="737" font-size="15.9" fill="#a8abb5" textLength="37.5" lengthAdjust="spacingAndGlyphs" stroke="#a8abb5" stroke-width="0.22">21:30</text>
<text x="679.9" y="737" font-size="15.9" fill="#d1d4dc" textLength="40.5" lengthAdjust="spacingAndGlyphs" font-weight="bold">21:00</text>
<g fill="#dcdcdc" transform="translate(15.4 772.6) scale(1.03)">
<path d="M14 22H7V11H0V4h14v18zM28 22h-8l7.5-18h8L28 22z"/><circle cx="20" cy="8" r="4"/>
</g>
<text x="62.1" y="795" font-size="27.6" fill="#dcdcdc" textLength="150.8" lengthAdjust="spacingAndGlyphs" font-weight="bold">TradingView</text>
</svg>
</body></html>
